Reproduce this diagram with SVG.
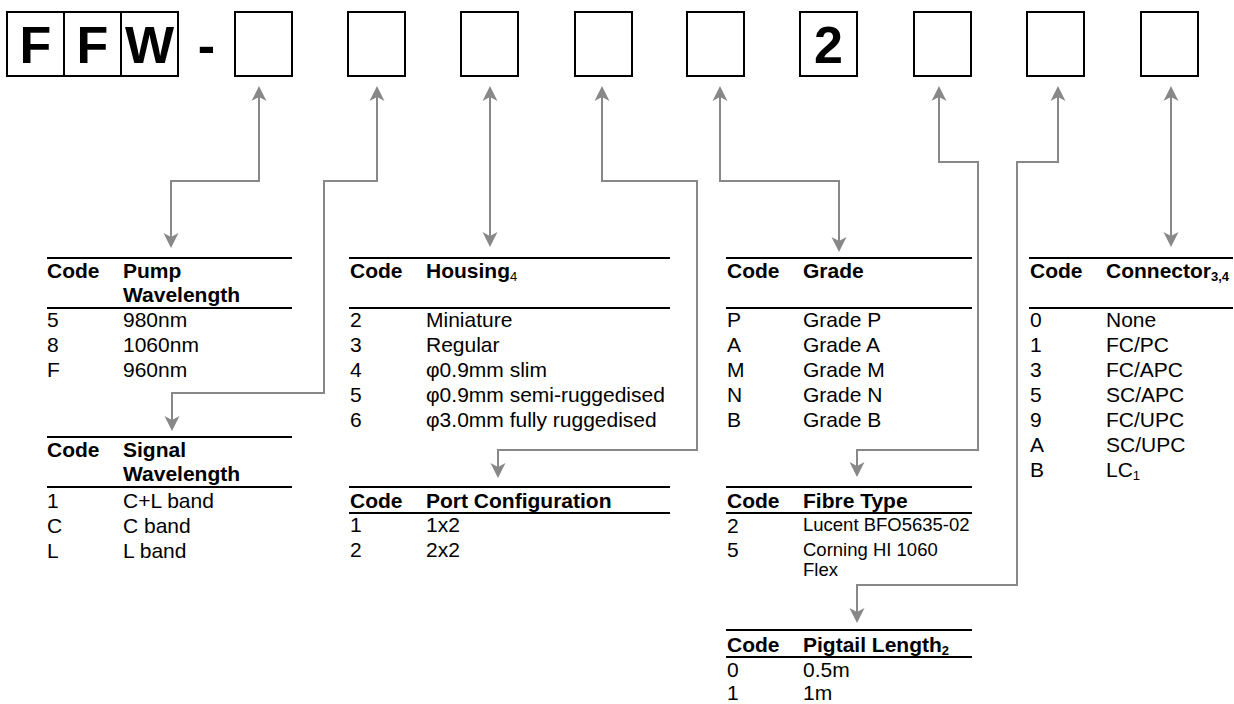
<svg xmlns="http://www.w3.org/2000/svg" width="1234" height="704" viewBox="0 0 1234 704">
<style>
.box{fill:none;stroke:#000;stroke-width:2}
.big{font-family:"Liberation Sans",Arial,sans-serif;font-weight:bold;font-size:52px;text-anchor:middle;fill:#000}
.rule{stroke:#000;stroke-width:2}
.h{font-family:"Liberation Sans",Arial,sans-serif;font-weight:bold;font-size:21px;fill:#000}
.t{font-family:"Liberation Sans",Arial,sans-serif;font-size:21px;fill:#000}
.s{font-size:18.5px}
.sub{font-size:13px}
.conn{fill:none;stroke:#888;stroke-width:2;marker-start:url(#aS);marker-end:url(#aE)}
</style>
<defs>
<marker id="aE" markerUnits="userSpaceOnUse" markerWidth="16" markerHeight="16" viewBox="-16 -8 16 16" refX="-8" refY="0" orient="auto"><path d="M0,0 L-15,-7.5 L-11,0 L-15,7.5 Z" fill="#888"/></marker>
<marker id="aS" markerUnits="userSpaceOnUse" markerWidth="16" markerHeight="16" viewBox="0 -8 16 16" refX="8" refY="0" orient="auto"><path d="M0,0 L15,-7.5 L11,0 L15,7.5 Z" fill="#888"/></marker>
</defs>
<g id="code-prefix">
<rect class="box" x="7" y="12" width="57" height="64"/>
<rect class="box" x="64" y="12" width="57" height="64"/>
<rect class="box" x="121" y="12" width="57" height="64"/>
<text class="big" x="35.5" y="63">F</text>
<text class="big" x="92.5" y="63">F</text>
<text class="big" x="149.5" y="63">W</text>
<text class="big" x="206.5" y="63">-</text>
</g>
<g id="slot1"><rect class="box" x="235" y="12" width="57" height="64"/></g>
<g id="slot2"><rect class="box" x="348" y="12" width="57" height="64"/></g>
<g id="slot3"><rect class="box" x="461" y="12" width="57" height="64"/></g>
<g id="slot4"><rect class="box" x="575" y="12" width="57" height="64"/></g>
<g id="slot5"><rect class="box" x="687" y="12" width="57" height="64"/></g>
<g id="slot6"><rect class="box" x="800" y="12" width="57" height="64"/><text class="big" x="828.5" y="63">2</text></g>
<g id="slot7"><rect class="box" x="914" y="12" width="57" height="64"/></g>
<g id="slot8"><rect class="box" x="1027" y="12" width="57" height="64"/></g>
<g id="slot9"><rect class="box" x="1141" y="12" width="57" height="64"/></g>

<g id="connectors">
<path class="conn" d="M259,94 V181 H171 V240"/>
<path class="conn" d="M377,94 V181 H324 V393 H172 V423"/>
<path class="conn" d="M490,94 V239"/>
<path class="conn" d="M602,94 V181 H697 V450 H498 V470"/>
<path class="conn" d="M720,94 V181 H839 V244"/>
<path class="conn" d="M939,94 V162 H978 V450 H857 V469"/>
<path class="conn" d="M1058,94 V162 H1017 V585 H857 V615"/>
<path class="conn" d="M1171,94 V239"/>
</g>

<g id="table-pump">
<line class="rule" x1="47" y1="258" x2="292" y2="258"/>
<line class="rule" x1="47" y1="308" x2="292" y2="308"/>
<text class="h" x="47" y="278">Code</text>
<text class="h" x="123" y="278">Pump</text>
<text class="h" x="123" y="302">Wavelength</text>
<text class="t" x="47" y="327">5</text><text class="t" x="123" y="327">980nm</text>
<text class="t" x="47" y="352">8</text><text class="t" x="123" y="352">1060nm</text>
<text class="t" x="47" y="377">F</text><text class="t" x="123" y="377">960nm</text>
</g>

<g id="table-signal">
<line class="rule" x1="47" y1="437" x2="292" y2="437"/>
<line class="rule" x1="47" y1="487" x2="292" y2="487"/>
<text class="h" x="47" y="457">Code</text>
<text class="h" x="123" y="457">Signal</text>
<text class="h" x="123" y="481">Wavelength</text>
<text class="t" x="47" y="508">1</text><text class="t" x="123" y="508">C+L band</text>
<text class="t" x="47" y="533">C</text><text class="t" x="123" y="533">C band</text>
<text class="t" x="47" y="558">L</text><text class="t" x="123" y="558">L band</text>
</g>

<g id="table-housing">
<line class="rule" x1="349" y1="258" x2="670" y2="258"/>
<line class="rule" x1="349" y1="308" x2="670" y2="308"/>
<text class="h" x="350" y="278">Code</text>
<text class="h" x="426" y="278">Housing<tspan class="sub" font-weight="normal" dy="3">4</tspan></text>
<text class="t" x="350" y="327">2</text><text class="t" x="426" y="327">Miniature</text>
<text class="t" x="350" y="352">3</text><text class="t" x="426" y="352">Regular</text>
<text class="t" x="350" y="377">4</text><text class="t" x="426" y="377">φ0.9mm slim</text>
<text class="t" x="350" y="402">5</text><text class="t" x="426" y="402">φ0.9mm semi-ruggedised</text>
<text class="t" x="350" y="427">6</text><text class="t" x="426" y="427">φ3.0mm fully ruggedised</text>
</g>

<g id="table-port">
<line class="rule" x1="349" y1="487" x2="670" y2="487"/>
<line class="rule" x1="349" y1="513" x2="670" y2="513"/>
<text class="h" x="350" y="508">Code</text>
<text class="h" x="426" y="508">Port Configuration</text>
<text class="t" x="350" y="532">1</text><text class="t" x="426" y="532">1x2</text>
<text class="t" x="350" y="557">2</text><text class="t" x="426" y="557">2x2</text>
</g>

<g id="table-grade">
<line class="rule" x1="726" y1="258" x2="972" y2="258"/>
<line class="rule" x1="726" y1="308" x2="972" y2="308"/>
<text class="h" x="727" y="278">Code</text>
<text class="h" x="803" y="278">Grade</text>
<text class="t" x="727" y="327">P</text><text class="t" x="803" y="327">Grade P</text>
<text class="t" x="727" y="352">A</text><text class="t" x="803" y="352">Grade A</text>
<text class="t" x="727" y="377">M</text><text class="t" x="803" y="377">Grade M</text>
<text class="t" x="727" y="402">N</text><text class="t" x="803" y="402">Grade N</text>
<text class="t" x="727" y="427">B</text><text class="t" x="803" y="427">Grade B</text>
</g>

<g id="table-fibre">
<line class="rule" x1="726" y1="487" x2="972" y2="487"/>
<line class="rule" x1="726" y1="513" x2="972" y2="513"/>
<text class="h" x="727" y="508">Code</text>
<text class="h" x="803" y="508">Fibre Type</text>
<text class="t" x="727" y="533">2</text><text class="t s" x="803" y="531">Lucent BFO5635-02</text>
<text class="t" x="727" y="557">5</text><text class="t s" x="803" y="556">Corning HI 1060</text>
<text class="t s" x="803" y="576">Flex</text>
</g>

<g id="table-pigtail">
<line class="rule" x1="726" y1="630" x2="972" y2="630"/>
<line class="rule" x1="726" y1="657" x2="972" y2="657"/>
<text class="h" x="727" y="652">Code</text>
<text class="h" x="803" y="652">Pigtail Length<tspan class="sub" dy="3">2</tspan></text>
<text class="t" x="727" y="677">0</text><text class="t" x="803" y="677">0.5m</text>
<text class="t" x="727" y="700">1</text><text class="t" x="803" y="700">1m</text>
</g>

<g id="table-connector">
<line class="rule" x1="1029" y1="258" x2="1233" y2="258"/>
<line class="rule" x1="1029" y1="308" x2="1233" y2="308"/>
<text class="h" x="1030" y="278">Code</text>
<text class="h" x="1106" y="278">Connector<tspan class="sub" dy="3">3,4</tspan></text>
<text class="t" x="1030" y="327">0</text><text class="t" x="1106" y="327">None</text>
<text class="t" x="1030" y="352">1</text><text class="t" x="1106" y="352">FC/PC</text>
<text class="t" x="1030" y="377">3</text><text class="t" x="1106" y="377">FC/APC</text>
<text class="t" x="1030" y="402">5</text><text class="t" x="1106" y="402">SC/APC</text>
<text class="t" x="1030" y="427">9</text><text class="t" x="1106" y="427">FC/UPC</text>
<text class="t" x="1030" y="452">A</text><text class="t" x="1106" y="452">SC/UPC</text>
<text class="t" x="1030" y="477">B</text><text class="t" x="1106" y="477">LC<tspan class="sub" dy="3">1</tspan></text>
</g>
</svg>
